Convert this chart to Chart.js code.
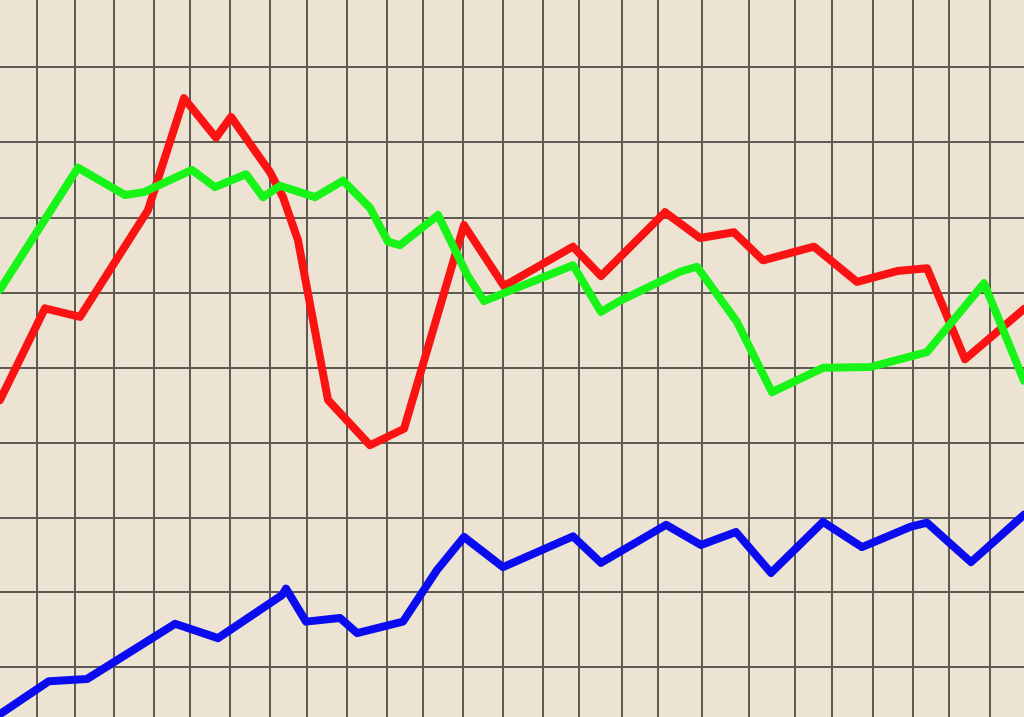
<!DOCTYPE html>
<html>
<head>
<meta charset="utf-8">
<script src="https://cdn.jsdelivr.net/npm/chart.js@4.4.1/dist/chart.umd.min.js"></script>
<style>
  html, body { margin: 0; padding: 0; background: #ece3d2; overflow: hidden; }
  #wrap { width: 1024px; height: 717px; }
</style>
</head>
<body>
<div id="wrap"><canvas id="lines" width="1024" height="717"></canvas></div>
<script>
// grid positions (x in periods, y in index points)
const gridX = [3.7, 7.5, 11.4, 15.4, 19.0, 23.0, 27.0, 30.7, 34.7, 38.7, 42.3, 46.3, 50.3,
               54.3, 57.9, 62.2, 65.8, 70.2, 74.9, 79.5, 83.2, 87.3, 91.3, 94.9, 99.0];
const gridY = [7.0, 17.4, 27.8, 38.2, 48.7, 59.1, 69.6, 80.2, 90.7];

// red series
const redX = [0, 4.5, 8.0, 14.8, 18.4, 21.6, 23.1, 27.0, 28.3, 29.8, 32.8, 37.0, 40.4, 46.4,
              50.4, 57.3, 60.1, 66.5, 70.0, 73.4, 76.3, 81.4, 85.7, 89.7, 92.7, 96.5, 102.4];
const redY = [44.2, 57.0, 55.8, 70.7, 86.3, 80.8, 83.7, 76.0, 72.5, 66.5, 44.2, 37.9, 40.2, 68.6,
              60.1, 65.6, 61.5, 70.4, 66.8, 67.6, 63.7, 65.6, 60.7, 62.2, 62.6, 49.9, 56.9];

// green series
const greenX = [0, 7.8, 12.5, 14.4, 19.2, 21.5, 24.6, 26.3, 28.0, 31.5, 34.3, 37.0, 38.8, 40.0,
                43.8, 46.7, 48.4, 57.3, 60.1, 61.8, 68.0, 69.7, 73.7, 77.2, 82.3, 87.0, 92.7, 98.4, 102.4];
const greenY = [59.6, 76.6, 72.8, 73.2, 76.3, 73.9, 75.7, 72.5, 74.1, 72.5, 74.8, 71.0, 66.3, 65.8,
                70.0, 61.7, 58.0, 63.0, 56.5, 57.9, 62.1, 62.8, 55.1, 45.3, 48.7, 48.8, 50.9, 60.5, 46.9];

// blue series
const blueX = [0, 4.9, 8.7, 17.5, 21.8, 28.2, 28.6, 30.6, 34.0, 35.7, 40.3, 43.7, 46.4, 50.3,
               57.3, 60.1, 66.6, 70.1, 73.6, 77.1, 82.3, 86.2, 91.0, 92.7, 97.1, 102.4];
const blueY = [0.4, 5.0, 5.3, 13.0, 11.0, 17.0, 17.9, 13.3, 13.8, 11.7, 13.3, 20.5, 25.1, 20.9,
               25.2, 21.5, 26.8, 24.0, 25.8, 20.1, 27.2, 23.7, 26.5, 27.1, 21.6, 28.2];

const toPoints = (xs, ys) => xs.map((x, i) => ({ x: x, y: ys[i] }));

const gridColor = '#5e5a54';

const bgPlugin = {
  id: 'paper',
  beforeDraw(chart) {
    const c = chart.ctx;
    c.save();
    c.fillStyle = '#ece3d2';
    c.fillRect(0, 0, chart.width, chart.height);
    c.restore();
  }
};

const lineStyle = {
  borderWidth: 8,
  pointRadius: 0,
  tension: 0,
  borderJoinStyle: 'round',
  borderCapStyle: 'round',
  fill: false
};

new Chart(document.getElementById('lines'), {
  type: 'line',
  data: {
    datasets: [
      Object.assign({ label: 'green', data: toPoints(greenX, greenY), borderColor: '#17f417', order: 1 }, lineStyle),
      Object.assign({ label: 'red', data: toPoints(redX, redY), borderColor: '#fb1212', order: 2 }, lineStyle),
      Object.assign({ label: 'blue', data: toPoints(blueX, blueY), borderColor: '#0b0bf0', order: 3 }, lineStyle)
    ]
  },
  options: {
    responsive: false,
    animation: false,
    layout: { padding: 0 },
    plugins: {
      legend: { display: false },
      tooltip: { enabled: false }
    },
    scales: {
      x: {
        type: 'linear',
        min: 0,
        max: 102.4,
        afterBuildTicks: (scale) => { scale.ticks = gridX.map(v => ({ value: v })); },
        ticks: { display: false },
        border: { display: false },
        grid: { color: gridColor, lineWidth: 2, drawTicks: false }
      },
      y: {
        type: 'linear',
        min: 0,
        max: 100,
        afterBuildTicks: (scale) => { scale.ticks = gridY.map(v => ({ value: v })); },
        ticks: { display: false },
        border: { display: false },
        grid: { color: gridColor, lineWidth: 2, drawTicks: false }
      }
    }
  },
  plugins: [bgPlugin]
});
</script>
</body>
</html>
